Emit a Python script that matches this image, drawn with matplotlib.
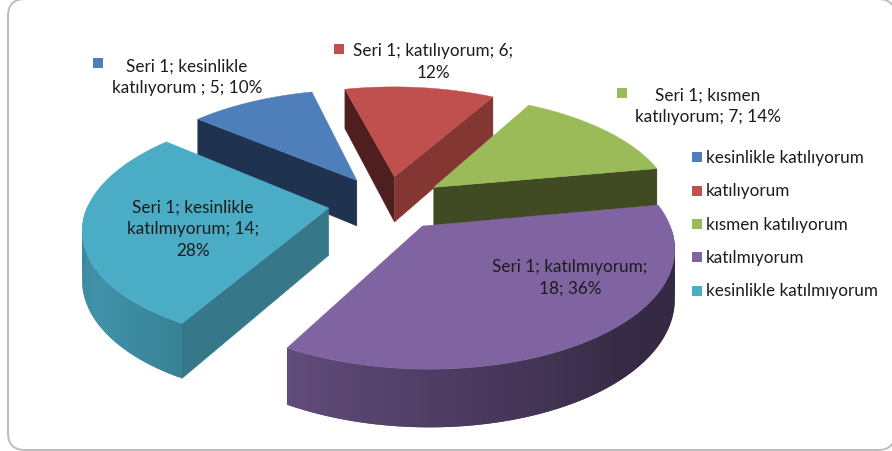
import numpy as np
import matplotlib
matplotlib.use("Agg")
import matplotlib.pyplot as plt
from matplotlib.patches import FancyBboxPatch, Rectangle

categories = ["kesinlikle katılıyorum", "katılıyorum", "kısmen katılıyorum",
              "katılmıyorum", "kesinlikle katılmıyorum"]
values = [5, 6, 7, 18, 14]
percents = ["10%", "12%", "14%", "36%", "28%"]
series_name = "Seri 1"
top_colors = ["#4F7FBA", "#C0504D", "#9BBB59", "#8064A2", "#4BACC6"]
start_face = ["#1F3350", "#4E1F1E", None, None, "#36788A"]
end_face = [None, "#843633", "#404B23", None, None]
base_rgb = [matplotlib.colors.to_rgb(c) for c in top_colors]

plt.rcParams['font.family'] = ['Lato', 'DejaVu Sans']
W, H = 892, 452
fig = plt.figure(figsize=(W / 100, H / 100), dpi=100)
ax = fig.add_axes([0, 0, 1, 1])
ax.set_xlim(0, W)
ax.set_ylim(H, 0)
ax.axis("off")

ax.add_patch(FancyBboxPatch((8, 0), 887, 451, boxstyle="round,pad=0,rounding_size=17",
                            fc="white", ec="#BDBDBD", lw=1.4, clip_on=True))

CX, CY, RX, RY, EXPL, PERSP, DEPTH = 387, 204, 240, 112, 0.245, 0.16, 47
FIRST = -50.0


def proj(a, r, z, mid):
    ar, mr = np.radians(a), np.radians(mid)
    X = EXPL * np.sin(mr) + r * np.sin(ar)
    Y = EXPL * np.cos(mr) + r * np.cos(ar)
    s = 1 / (1 + PERSP * Y)
    return CX + RX * X * s, CY - RY * Y * s + DEPTH * z * s


def shade(a):
    return np.interp(a, [90, 135, 205, 235, 270], [.40, .42, .74, .85, .78])


total = sum(values)
order = [0, 1, 2, 4, 3]
edges = FIRST + np.concatenate([[0], np.cumsum(values)]) * 360 / total
for i in order:
    z = 2 + order.index(i)
    a0, a1 = edges[i], edges[i + 1]
    mid = (a0 + a1) / 2
    arc = np.linspace(a0, a1, 90)
    # outer wall, painted from one end so each strip overlaps the next
    for k in range(len(arc) - 1):
        u = arc[k]
        if not 90 <= (u % 360) <= 270:
            continue
        v = arc[min(k + 2, len(arc) - 1)]
        col = tuple(c * shade(u % 360) for c in base_rgb[i])
        pts = [proj(u, 1, 0, mid), proj(v, 1, 0, mid), proj(v, 1, 1, mid), proj(u, 1, 1, mid)]
        ax.fill(*zip(*pts), fc=col, ec="none", lw=0, zorder=z)
    # radial faces
    for ang, col in ((a0, start_face[i]), (a1, end_face[i])):
        if col:
            pts = [proj(ang, 0, 0, mid), proj(ang, 1, 0, mid), proj(ang, 1, 1, mid), proj(ang, 0, 1, mid)]
            ax.fill(*zip(*pts), fc=col, ec=col, lw=0.3, zorder=z)
    # top
    pts = [proj(0, 0, 0, mid)] + [proj(t, 1, 0, mid) for t in arc]
    ax.fill(*zip(*pts), fc=top_colors[i], ec=top_colors[i], lw=0.3, zorder=z)

TXT = "#1C1C1C"
FS = 12.3
labels = [
    f"{series_name}; kesinlikle\nkatılıyorum ; {values[0]}; {percents[0]}",
    f"{series_name}; katılıyorum; {values[1]};\n{percents[1]}",
    f"{series_name}; kısmen\nkatılıyorum; {values[2]}; {percents[2]}",
    f"{series_name}; katılmıyorum;\n{values[3]}; {percents[3]}",
    f"{series_name}; kesinlikle\nkatılmıyorum; {values[4]};\n{percents[4]}",
]
label_pos = [(187, 77), (433, 62), (708, 106), (570, 278), (193, 229)]
marker_pos = [(98, 64), (339, 50), (622, 94)]
for t, (x, y) in zip(labels, label_pos):
    ax.text(x, y, t, ha="center", va="center", fontsize=FS, color=TXT, linespacing=1.43, zorder=20)
for (x, y), c in zip(marker_pos, top_colors):
    ax.add_patch(Rectangle((x - 5, y - 5), 10, 10, fc=c, ec="none", zorder=20))

legend_y = [158, 191.5, 225, 258, 291.5]
for name, y, c in zip(categories, legend_y, top_colors):
    ax.add_patch(Rectangle((692, y - 5), 10, 10, fc=c, ec="none", zorder=20))
    ax.text(706, y, name, ha="left", va="center", fontsize=FS, color=TXT, zorder=20)

fig.savefig("out.png", dpi=100)
